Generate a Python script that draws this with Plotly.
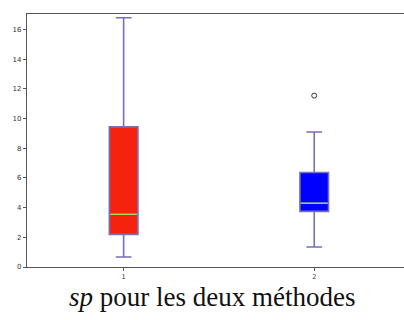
import plotly.graph_objects as go

methods = [1, 2]
lower_whisker = [0.67, 1.35]
q1_vals = [2.2, 3.75]
median_vals = [3.55, 4.3]
q3_vals = [9.44, 6.37]
upper_whisker = [16.8, 9.1]
fill_colors = ["#f5220e", "#0000ff"]
outlier_x = [2]
outlier_y = [11.55]
y_ticks = [0, 2, 4, 6, 8, 10, 12, 14, 16]

edge = "#7570b8"
median_color = "#a8dc5a"
box_w = 0.15

fig = go.Figure()
for i, m in enumerate(methods):
    fig.add_trace(go.Box(
        x=[m], q1=[q1_vals[i]], median=[median_vals[i]], q3=[q3_vals[i]],
        lowerfence=[lower_whisker[i]], upperfence=[upper_whisker[i]],
        width=box_w, whiskerwidth=0.55,
        fillcolor=fill_colors[i], line=dict(color=edge, width=1.6),
        boxpoints=False, showlegend=False, hoverinfo="skip",
    ))
    fig.add_trace(go.Scatter(
        x=[m - box_w / 2 + 0.005, m + box_w / 2 - 0.005],
        y=[median_vals[i], median_vals[i]],
        mode="lines", line=dict(color=median_color, width=1.3),
        showlegend=False, hoverinfo="skip",
    ))

fig.add_trace(go.Scatter(
    x=outlier_x, y=outlier_y, mode="markers",
    marker=dict(symbol="circle-open", size=5, color="#333333", line=dict(width=1)),
    showlegend=False, hoverinfo="skip",
))

fig.update_layout(
    width=404, height=320,
    margin=dict(l=27, r=0, t=14, b=53, autoexpand=False),
    plot_bgcolor="white", paper_bgcolor="white",
    font=dict(family="DejaVu Sans", color="#333333", size=7),
    xaxis=dict(
        range=[0.493, 2.471], tickvals=methods, ticktext=[str(m) for m in methods],
        showgrid=False, zeroline=False, showline=True, mirror=True,
        linecolor="#555555", linewidth=1.2, automargin=False,
        ticks="outside", ticklen=3, tickwidth=1, tickcolor="#555555",
        tickfont=dict(size=6.5, color="#333333"),
    ),
    yaxis=dict(
        range=[0, 17.05], tickvals=y_ticks,
        showgrid=False, zeroline=False, showline=True, mirror=False,
        linecolor="#555555", linewidth=1.2, automargin=False,
        ticks="outside", ticklen=3, tickwidth=1, tickcolor="#555555",
        tickfont=dict(size=7, color="#333333"),
    ),
    annotations=[dict(
        text="<i>sp</i> pour les deux méthodes",
        xref="paper", yref="paper", x=0.491, y=-0.118,
        xanchor="center", yanchor="middle", showarrow=False,
        font=dict(family="Liberation Serif", size=27, color="#111111"),
    )],
)

fig.write_html("out.html", config={"displayModeBar": False},
               post_script="document.body.style.margin='0';")
